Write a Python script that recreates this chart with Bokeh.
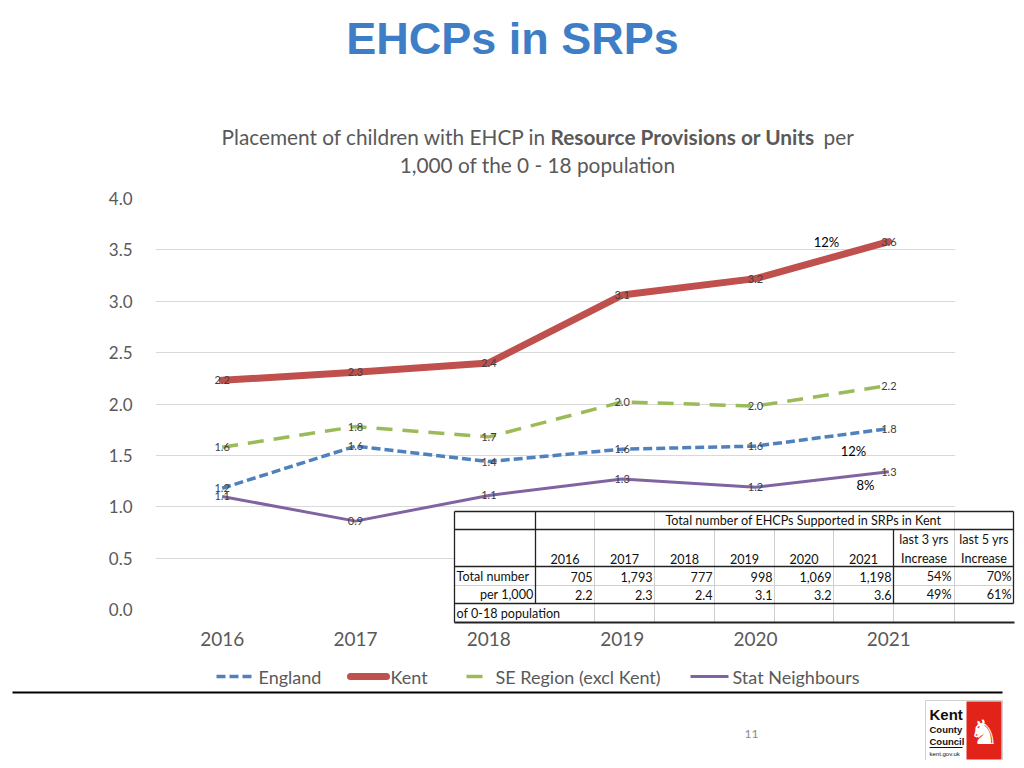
from bokeh.plotting import figure
from bokeh.models import Range1d, FixedTicker, NumeralTickFormatter, ColumnDataSource
from bokeh.core.properties import value
from bokeh.embed import file_html
from bokeh.resources import INLINE

# ---------------- data ----------------
years = [2016, 2017, 2018, 2019, 2020, 2021]
england = [1.18, 1.59, 1.44, 1.56, 1.59, 1.76]
kent = [2.23, 2.31, 2.40, 3.06, 3.22, 3.58]
se_region = [1.58, 1.78, 1.68, 2.02, 1.98, 2.18]
stat_neighbours = [1.10, 0.86, 1.11, 1.27, 1.19, 1.34]
series_names = ["England", "Kent", "SE Region (excl Kent)", "Stat Neighbours"]
y_ticks = [0.0, 0.5, 1.0, 1.5, 2.0, 2.5, 3.0, 3.5, 4.0]

table_totals = [705, 1793, 777, 998, 1069, 1198]
table_per_1000 = [2.2, 2.3, 2.4, 3.1, 3.2, 3.6]
last3_increase = ["54%", "49%"]
last5_increase = ["70%", "61%"]
growth_notes = ["12%", "12%", "8%"]

# ---------------- styles ----------------
FONT = "Lato"
GREY = "#595959"
C_ENG, C_KENT, C_SE, C_STAT = "#4f81bd", "#c0504d", "#9bbb59", "#8064a2"

X0, X1, Y0, Y1 = 2015.5, 2021.5, 0.0, 4.0
FX0, FX1, FY0, FY1 = 155, 955, 198, 609   # frame in page pixels
W, H = 1016, 760


def dx(xp):
    return X0 + (xp - FX0) * (X1 - X0) / (FX1 - FX0)


def dy(yp):
    return Y1 - (yp - FY0) * (Y1 - Y0) / (FY1 - FY0)


p = figure(width=W, height=H, x_range=Range1d(X0, X1), y_range=Range1d(Y0, Y1),
           output_backend="svg", toolbar_location=None,
           min_border_left=FX0, min_border_right=W - FX1,
           min_border_top=FY0, min_border_bottom=H - FY1)
p.outline_line_color = None
p.background_fill_color = "white"
p.border_fill_color = "white"
p.xgrid.visible = False
p.ygrid.grid_line_color = "#d9d9d9"
p.ygrid.grid_line_width = 1

p.yaxis.ticker = FixedTicker(ticks=y_ticks)
p.yaxis.formatter = NumeralTickFormatter(format="0.0")
p.xaxis.ticker = FixedTicker(ticks=years)
for ax in (p.xaxis, p.yaxis):
    ax.axis_line_color = None
    ax.major_tick_line_color = None
    ax.minor_tick_line_color = None
    ax.major_label_text_font = FONT
    ax.major_label_text_color = GREY
p.yaxis.major_label_text_font_size = "17px"
p.yaxis.major_label_standoff = 17
p.xaxis.major_label_text_font_size = "19px"
p.xaxis.major_label_standoff = 16


def txt(xs, ys, texts, size, color="#111111", align="left", style="normal",
        font=FONT, baseline="middle"):
    p.text(x=[dx(v) for v in xs], y=[dy(v) for v in ys], text=texts,
           text_font=value(font), text_font_size=size, text_color=color,
           text_align=align, text_baseline=baseline, text_font_style=style,
           level="overlay")


# ---------------- series ----------------
styles = [dict(line_color=C_ENG, line_width=3.5, line_dash="9 4"),
          dict(line_color=C_KENT, line_width=7, line_cap="round", line_join="round"),
          dict(line_color=C_SE, line_width=3.5, line_dash="16 10"),
          dict(line_color=C_STAT, line_width=3)]
all_series = [england, kent, se_region, stat_neighbours]
for k in (0, 2, 3, 1):
    p.line(years, all_series[k], **styles[k])

lx, ly, lt = [], [], []
for series in all_series:
    for yr, v in zip(years, series):
        lx.append(yr)
        ly.append(v)
        lt.append(f"{v:.1f}")
p.text(x=lx, y=ly, text=lt, text_font=value(FONT), text_font_size="11px",
       text_color="#404040", text_align="center", text_baseline="middle",
       level="overlay")

# growth notes
txt([826, 853, 865], [241, 450, 484], growth_notes, "13px", color="#000000",
    align="center")

# ---------------- legend ----------------
leg_glyph = [(216, 251), (350, 386), (466, 488), (690, 728)]
leg_text_x = [258, 390, 495, 732]
LEG_Y = 676
for k, (a, b) in enumerate(leg_glyph):
    st = dict(styles[k])
    p.segment(x0=[dx(a)], y0=[dy(LEG_Y)], x1=[dx(b)], y1=[dy(LEG_Y)],
              level="overlay", **st)
txt(leg_text_x, [LEG_Y] * 4, series_names, "18px", color=GREY)

# ---------------- titles ----------------
TS = "20.8px"
txt([512], [38], ["EHCPs in SRPs"], "45px", color="#3e7ec6", align="center",
    style="bold", font="Liberation Sans")
txt([546], [136], ["Placement of children with EHCP in"], TS, color=GREY,
    align="right")
txt([550], [136], ["Resource Provisions or Units"], TS, color=GREY,
    style="bold")
txt([823], [136], ["per"], TS, color=GREY)
txt([537], [164], ["1,000 of the 0 - 18 population"], TS, color=GREY,
    align="center")

# ---------------- table ----------------
col_px = [454, 535, 594, 654, 714, 774, 833, 893, 954, 1013]
row_px = [511, 529, 566, 585, 603, 622]

p.quad(left=[dx(col_px[0])], right=[dx(col_px[-1])], top=[dy(row_px[0])],
       bottom=[dy(row_px[-1])], fill_color="white", line_color=None, level="overlay")

grey_seg = [  # (x0, y0, x1, y1) pixels
    (454, 585, 1013, 585),
    (594, 511, 594, 622), (654, 511, 654, 622),
    (714, 529, 714, 622), (774, 529, 774, 622), (833, 529, 833, 622),
    (954, 511, 954, 622), (893, 603, 893, 622),
]
black_seg = [
    (454, 511, 1013, 511), (454, 529, 1013, 529), (454, 566, 1013, 566),
    (454, 603, 1013, 603), (454, 511, 454, 622), (535, 511, 535, 603),
    (893, 529, 893, 603), (1013, 511, 1013, 603),
]
p.segment(x0=[dx(s[0]) for s in grey_seg], y0=[dy(s[1]) for s in grey_seg],
          x1=[dx(s[2]) for s in grey_seg], y1=[dy(s[3]) for s in grey_seg],
          line_color="#cfcfcf", line_width=1, level="overlay")
p.segment(x0=[dx(s[0]) for s in black_seg], y0=[dy(s[1]) for s in black_seg],
          x1=[dx(s[2]) for s in black_seg], y1=[dy(s[3]) for s in black_seg],
          line_color="#222222", line_width=1.3, level="overlay")
p.segment(x0=[dx(454)], y0=[dy(622)], x1=[dx(1014)], y1=[dy(622)],
          line_color="#222222", line_width=2.2, level="overlay")

tx, ty, tt, ta = [], [], [], []


def cell(text, xp, yp, align):
    tx.append(dx(xp)); ty.append(dy(yp)); tt.append(text); ta.append(align)


cell("Total number of EHCPs Supported in SRPs in Kent", 803, 520, "center")
for i, yr in enumerate(years):
    c = (col_px[i + 1] + col_px[i + 2]) / 2
    r = col_px[i + 2] - 2
    cell(str(yr), c, 558, "center")
    cell(f"{table_totals[i]:,}", r, 576, "right")
    cell(f"{table_per_1000[i]:.1f}", r, 594, "right")
cell("last 3 yrs", 923.5, 539, "center")
cell("Increase", 923.5, 558, "center")
cell("last 5 yrs", 983.5, 539, "center")
cell("Increase", 983.5, 558, "center")
cell(last3_increase[0], 951, 576, "right")
cell(last3_increase[1], 951, 594, "right")
cell(last5_increase[0], 1011, 576, "right")
cell(last5_increase[1], 1011, 594, "right")
cell("Total number", 456, 576, "left")
cell("per 1,000", 533, 594, "right")
cell("of 0-18 population", 456, 613, "left")
p.text(x="x", y="y", text="t", text_align="a",
       source=ColumnDataSource(dict(x=tx, y=ty, t=tt, a=ta)),
       text_font=value(FONT), text_font_size="12.6px", text_color="#111111",
       text_baseline="middle", level="overlay")

# ---------------- slide furniture ----------------
p.segment(x0=[dx(12)], y0=[dy(692)], x1=[dx(1002)], y1=[dy(692)],
          line_color="#000000", line_width=2, level="overlay")
txt([751], [733], ["11"], "12px", color="#8c8c8c", align="center")
# logo
p.quad(left=[dx(925)], right=[dx(1002)], top=[dy(700)], bottom=[dy(760)],
       fill_color="white", line_color="#d0d0d0", line_width=1, level="overlay")
p.quad(left=[dx(966)], right=[dx(1001)], top=[dy(701)], bottom=[dy(759)],
       fill_color="#e2231a", line_color=None, level="overlay")
txt([983.5], [731], ["\u265e"], "34px", color="white", align="center",
    font="DejaVu Sans")
txt([929], [714], ["Kent"], "15px", style="bold", font="Liberation Sans")
txt([929, 929], [729, 741], ["County", "Council"], "9.5px", style="bold",
    font="Liberation Sans")
txt([929], [753], ["kent.gov.uk"], "6px", font="Liberation Sans")
p.segment(x0=[dx(929)], y0=[dy(747)], x1=[dx(962)], y1=[dy(747)],
          line_color="#111111", line_width=1, level="overlay")

open("out.html", "w").write(file_html(p, INLINE))
